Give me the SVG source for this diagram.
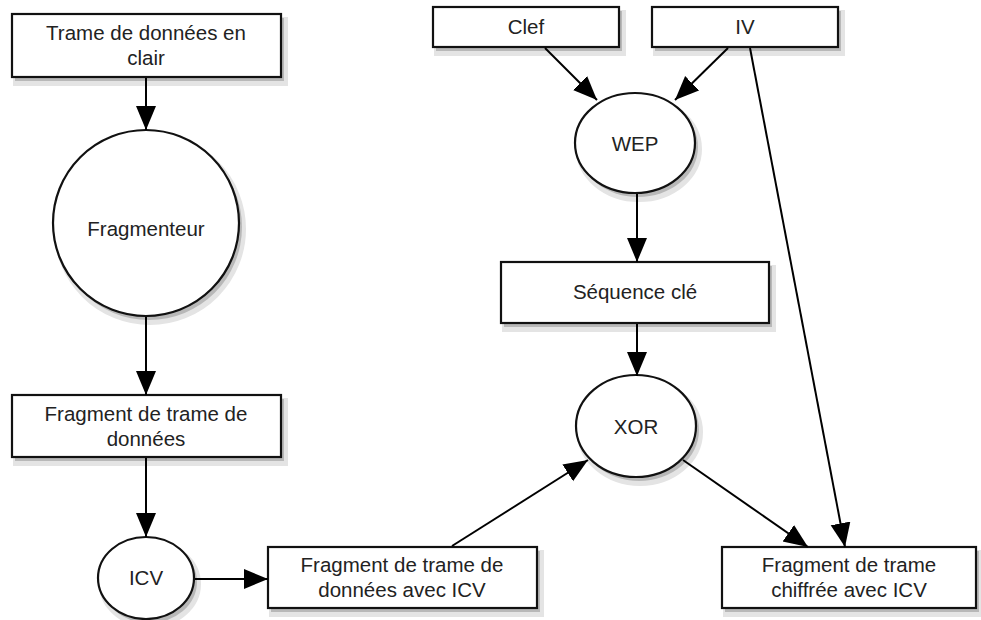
<svg xmlns="http://www.w3.org/2000/svg" width="981" height="620" viewBox="0 0 981 620">
<defs>
<marker id="ah" markerUnits="userSpaceOnUse" markerWidth="26" markerHeight="22" refX="24" refY="10" orient="auto">
<path d="M0,0 L24,10 L0,20 z" fill="#000"/>
</marker>
<style>
.f{fill:#fff;stroke:#111;stroke-width:2.2}
.s1{fill:#e4e4e4;stroke:#e4e4e4;stroke-width:6}
.s2{fill:#b8b8b8;stroke:none}
.n text{font-family:"Liberation Sans",Arial,sans-serif;font-size:20.5px;fill:#222;text-anchor:middle}
.c line{stroke:#000;stroke-width:2;marker-end:url(#ah)}
</style>
</defs>
<rect width="981" height="620" fill="#fff"/>
<g class="n" id="trame">
<rect class="s1" x="16" y="20" width="269" height="63"/>
<rect class="s2" x="15" y="18" width="269" height="63"/>
<rect class="f" x="12" y="14" width="269" height="63"/>
<text x="146" y="40">Trame de données en</text>
<text x="146" y="65">clair</text>
</g>
<g class="n" id="fragmenteur">
<circle class="s1" cx="150" cy="229" r="93"/>
<circle class="s2" cx="149" cy="227" r="93"/>
<circle class="f" cx="146" cy="223" r="93"/>
<text x="146" y="236">Fragmenteur</text>
</g>
<g class="n" id="fragment">
<rect class="s1" x="16" y="401" width="269" height="62"/>
<rect class="s2" x="15" y="399" width="269" height="62"/>
<rect class="f" x="12" y="395" width="269" height="62"/>
<text x="146" y="421">Fragment de trame de</text>
<text x="146" y="446">données</text>
</g>
<g class="n" id="icv">
<ellipse class="s1" cx="150" cy="584" rx="48" ry="41"/>
<ellipse class="s2" cx="149" cy="582" rx="48" ry="41"/>
<ellipse class="f" cx="146" cy="578" rx="48" ry="41"/>
<text x="146" y="585">ICV</text>
</g>
<g class="n" id="fragmenticv">
<rect class="s1" x="272" y="553" width="269" height="61"/>
<rect class="s2" x="271" y="551" width="269" height="61"/>
<rect class="f" x="268" y="547" width="269" height="61"/>
<text x="402" y="572">Fragment de trame de</text>
<text x="402" y="597">données avec ICV</text>
</g>
<g class="n" id="clef">
<rect class="s1" x="437" y="13" width="186" height="40"/>
<rect class="s2" x="436" y="11" width="186" height="40"/>
<rect class="f" x="433" y="7" width="186" height="40"/>
<text x="526" y="34">Clef</text>
</g>
<g class="n" id="iv">
<rect class="s1" x="656" y="13" width="186" height="40"/>
<rect class="s2" x="655" y="11" width="186" height="40"/>
<rect class="f" x="652" y="7" width="186" height="40"/>
<text x="745" y="34">IV</text>
</g>
<g class="n" id="wep">
<ellipse class="s1" cx="639" cy="149" rx="60" ry="50"/>
<ellipse class="s2" cx="638" cy="147" rx="60" ry="50"/>
<ellipse class="f" cx="635" cy="143" rx="60" ry="50"/>
<text x="635" y="151">WEP</text>
</g>
<g class="n" id="sequence">
<rect class="s1" x="505" y="268" width="268" height="61"/>
<rect class="s2" x="504" y="266" width="268" height="61"/>
<rect class="f" x="501" y="262" width="268" height="61"/>
<text x="635" y="299">Séquence clé</text>
</g>
<g class="n" id="xor">
<ellipse class="s1" cx="640" cy="432" rx="60" ry="51"/>
<ellipse class="s2" cx="639" cy="430" rx="60" ry="51"/>
<ellipse class="f" cx="636" cy="426" rx="60" ry="51"/>
<text x="636" y="434">XOR</text>
</g>
<g class="n" id="chiffree">
<rect class="s1" x="726" y="553" width="254" height="61"/>
<rect class="s2" x="725" y="551" width="254" height="61"/>
<rect class="f" x="722" y="547" width="254" height="61"/>
<text x="849" y="572">Fragment de trame</text>
<text x="849" y="597">chiffrée avec ICV</text>
</g>
<g class="c" id="connectors">
<line x1="146" y1="78" x2="146" y2="130"/>
<line x1="146" y1="317" x2="146" y2="395"/>
<line x1="146" y1="458" x2="146" y2="537"/>
<line x1="195" y1="579" x2="268" y2="579"/>
<line x1="452" y1="546" x2="588" y2="460"/>
<line x1="545" y1="48" x2="597" y2="100"/>
<line x1="728" y1="48" x2="675" y2="100"/>
<line x1="637" y1="194" x2="637" y2="262"/>
<line x1="637" y1="324" x2="637" y2="376"/>
<line x1="683" y1="460" x2="808" y2="547"/>
<line x1="750" y1="48" x2="845" y2="547"/>
</g>
</svg>
